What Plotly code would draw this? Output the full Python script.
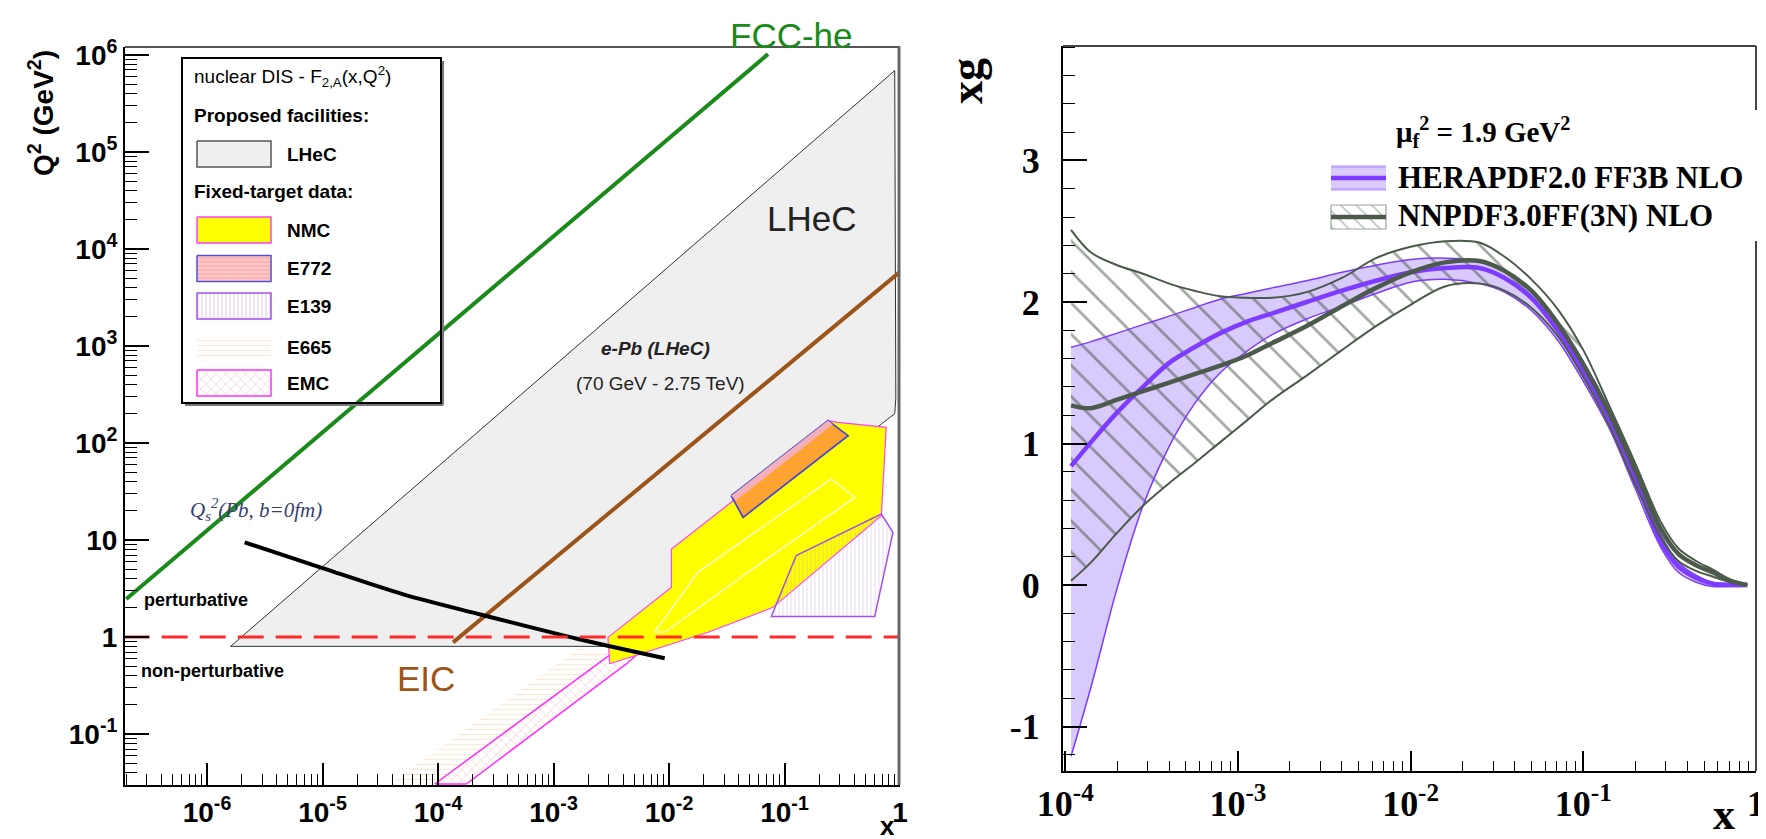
import plotly.graph_objects as go

# ================= LEFT PANEL DATA (x, Q^2) =================
lhec_x = [1.6e-6, 0.90, 0.92, 0.90, 0.69, 3.0e-3]
lhec_q2 = [0.80, 6.9e5, 290, 200, 157, 0.80]

nmc_x = [3.07e-3, 2.96e-3, 1.05e-2, 1.05e-2, 3.46e-2, 0.238, 0.290, 0.760, 0.689, 0.0794, 0.0218, 5.05e-3]
nmc_q2 = [0.53, 0.99, 3.25, 8.07, 24.5, 170, 163, 145, 17.8, 2.02, 1.12, 0.64]

nmc_inner_x = [7.52e-3, 1.78e-2, 0.254, 0.406, 4.83e-2, 9.18e-3]
nmc_inner_q2 = [1.12, 4.65, 42.6, 27.5, 4.65, 1.12]

e772_x = [3.46e-2, 0.238, 0.355, 4.38e-2]
e772_q2 = [28.6, 170, 119, 17.1]
e772_strip_x = [3.46e-2, 0.238, 0.262, 3.80e-2]
e772_strip_q2 = [28.6, 170, 155, 25.5]

e139_x = [0.126, 0.689, 0.869, 0.604, 0.0769]
e139_q2 = [6.89, 18.5, 12.0, 1.63, 1.63]

emc_x = [9.37e-5, 3.16e-3, 4.27e-3, 6.58e-3, 4.27e-3, 1.76e-4]
emc_q2 = [0.0305, 0.668, 0.953, 0.828, 0.527, 0.0305]

e665_x = [3.82e-5, 1.63e-3, 3.07e-3, 9.37e-5]
e665_q2 = [0.0305, 0.752, 0.695, 0.0305]

fcc_x = [2.0e-7, 0.072]
fcc_q2 = [2.46, 1.02e6]
eic_x = [1.35e-4, 1.0]
eic_q2 = [0.88, 5800]
qs_x = [2.12e-6, 1.0e-5, 5.0e-5, 2.22e-4, 1.63e-3, 9.18e-3]
qs_q2 = [9.46, 5.13, 2.75, 1.73, 0.953, 0.603]
pert_x = [1.9e-7, 1.0]
pert_q2 = [1.0, 1.0]

left_xticks = [1e-6, 1e-5, 1e-4, 1e-3, 1e-2, 1e-1, 1]
left_xtext = ["10<sup>-6</sup>", "10<sup>-5</sup>", "10<sup>-4</sup>", "10<sup>-3</sup>",
              "10<sup>-2</sup>", "10<sup>-1</sup>", "1"]
left_yticks = [0.1, 1, 10, 100, 1e3, 1e4, 1e5, 1e6]
left_ytext = ["10<sup>-1</sup>", "1", "10", "10<sup>2</sup>", "10<sup>3</sup>",
              "10<sup>4</sup>", "10<sup>5</sup>", "10<sup>6</sup>"]

# ================= RIGHT PANEL DATA (x, xg) =================
xg_x = [1.08e-4, 1.41e-4, 2.0e-4, 2.82e-4, 4.0e-4, 5.6e-4, 7.9e-4, 1.12e-3, 1.58e-3,
        2.5e-3, 4.0e-3, 6.3e-3, 1.0e-2, 1.58e-2, 2.5e-2, 3.5e-2, 5.0e-2, 7.1e-2,
        0.10, 0.141, 0.20, 0.28, 0.355, 0.45, 0.56, 0.71, 0.89]
hera_c = [0.84, 1.01, 1.22, 1.40, 1.57, 1.68, 1.78, 1.86, 1.92, 2.00, 2.08, 2.15, 2.21,
          2.24, 2.24, 2.17, 2.03, 1.80, 1.51, 1.18, 0.76, 0.31, 0.13, 0.05, 0.01, 0.0, 0.0]
hera_up = [1.68, 1.72, 1.78, 1.84, 1.90, 1.96, 2.02, 2.06, 2.10, 2.15, 2.21, 2.26, 2.30,
           2.31, 2.29, 2.22, 2.08, 1.86, 1.58, 1.24, 0.81, 0.36, 0.16, 0.07, 0.02, 0.01, 0.0]
hera_lo = [-1.21, -0.72, -0.02, 0.56, 0.98, 1.28, 1.50, 1.65, 1.77, 1.88, 1.97, 2.06, 2.14,
           2.16, 2.13, 2.07, 1.94, 1.73, 1.44, 1.11, 0.68, 0.27, 0.09, 0.02, -0.01, -0.01, 0.0]
nn_c = [1.27, 1.25, 1.31, 1.37, 1.43, 1.49, 1.55, 1.62, 1.71, 1.83, 1.97, 2.10, 2.21,
        2.28, 2.29, 2.22, 2.08, 1.85, 1.56, 1.22, 0.81, 0.40, 0.22, 0.14, 0.09, 0.03, 0.0]
nn_up = [2.51, 2.35, 2.26, 2.20, 2.13, 2.08, 2.04, 2.03, 2.03, 2.07, 2.17, 2.31, 2.39,
         2.43, 2.42, 2.32, 2.16, 1.95, 1.66, 1.27, 0.86, 0.45, 0.26, 0.17, 0.11, 0.04, 0.0]
nn_lo = [0.03, 0.16, 0.37, 0.56, 0.72, 0.86, 1.01, 1.16, 1.31, 1.48, 1.66, 1.83, 1.98,
         2.11, 2.13, 2.08, 1.96, 1.76, 1.47, 1.13, 0.71, 0.34, 0.17, 0.10, 0.06, 0.02, 0.0]

right_xticks = [1e-4, 1e-3, 1e-2, 1e-1, 1]
right_xtext = ["10<sup>-4</sup>", "10<sup>-3</sup>", "10<sup>-2</sup>", "10<sup>-1</sup>", "1"]
right_yticks = [-1, 0, 1, 2, 3]
right_ytext = ["-1", "0", "1", "2", "3"]

# legend entries (left panel)
left_legend_names = ["LHeC", "NMC", "E772", "E139", "E665", "EMC"]

# ================= STYLE =================
SANS = "Liberation Sans, Arial, sans-serif"
SERIF = "Liberation Serif, Times New Roman, serif"
W, H = 1766, 839
PURPLE = "#7d3cff"
LAV = "rgb(216,202,250)"
GREY_G = "#4b5a4b"
GREEN = "#1a8a1a"
BROWN = "#9c5418"

fig = go.Figure()


def poly(x, y, ax, **kw):
    fig.add_trace(go.Scatter(x=list(x) + [x[0]], y=list(y) + [y[0]], mode="lines",
                             fill="toself", xaxis=ax[0], yaxis=ax[1], showlegend=False,
                             hoverinfo="skip", **kw))


def line(x, y, ax, **kw):
    fig.add_trace(go.Scatter(x=x, y=y, mode="lines", xaxis=ax[0], yaxis=ax[1],
                             showlegend=False, hoverinfo="skip", **kw))


L = ("x", "y")
R = ("x2", "y2")
O = ("x3", "y3")

# ---------------- left panel ----------------
poly(lhec_x, lhec_q2, L, fillcolor="#efefef", line=dict(color="#333", width=1))
poly(e665_x, e665_q2, L, fillcolor="rgba(0,0,0,0)", line=dict(width=0),
     fillpattern=dict(shape="-", fgcolor="#ffcfa8", size=5, solidity=0.25))
poly(emc_x, emc_q2, L, fillcolor="white", line=dict(color="#ff30ff", width=1.5),
     fillpattern=dict(shape="x", fgcolor="#f2a0a0", bgcolor="white", size=7, solidity=0.2))
poly(nmc_x, nmc_q2, L, fillcolor="#ffff00", line=dict(color="#ff40ff", width=1.2))
poly(nmc_inner_x, nmc_inner_q2, L, fillcolor="rgba(0,0,0,0)", line=dict(color="white", width=1.2))
poly(e772_x, e772_q2, L, fillcolor="#ffa020", line=dict(color="#4a4ad0", width=1.8),
     fillpattern=dict(shape="-", fgcolor="#ff9090", bgcolor="#ffa620", size=4, solidity=0.3))
poly(e772_strip_x, e772_strip_q2, L, fillcolor="#f4b0b8", line=dict(width=0))
poly(e139_x, e139_q2, L, fillcolor="rgba(0,0,0,0)", line=dict(color="#a050f0", width=1.5),
     fillpattern=dict(shape="|", fgcolor="#c89af0", size=4, solidity=0.2))

line(fcc_x, fcc_q2, L, line=dict(color=GREEN, width=4))
line(eic_x, eic_q2, L, line=dict(color=BROWN, width=4))
line(qs_x, qs_q2, L, line=dict(color="black", width=4, shape="spline", smoothing=0.8))
line(pert_x, pert_q2, L, line=dict(color="#ff2a2a", width=3, dash="26px,12px"))

# ---------------- right panel ----------------
poly(xg_x + xg_x[::-1], hera_up + hera_lo[::-1], R, fillcolor=LAV, line=dict(width=0))
poly(xg_x + xg_x[::-1], nn_up + nn_lo[::-1], R, fillcolor="rgba(0,0,0,0)", line=dict(width=0),
     fillpattern=dict(shape="\\", fgcolor="#3f4e3f", size=22, solidity=0.12))
line(xg_x, hera_up, R, line=dict(color=PURPLE, width=1.5, shape="spline"))
line(xg_x, hera_lo, R, line=dict(color=PURPLE, width=1.5, shape="spline"))
line(xg_x, hera_c, R, line=dict(color=PURPLE, width=4.5, shape="spline"))
line(xg_x, nn_up, R, line=dict(color=GREY_G, width=2, shape="spline"))
line(xg_x, nn_lo, R, line=dict(color=GREY_G, width=2, shape="spline"))
line(xg_x, nn_c, R, line=dict(color=GREY_G, width=4.5, shape="spline"))

# ---------------- legend swatches (overlay, pixel coordinates) ----------------
sw_x0, sw_x1 = 189, 263
sw_rows = [146, 222, 260.5, 298, 339, 375]
sw_styles = [
    dict(fillcolor="#efefef", line=dict(color="#555", width=1.5)),
    dict(fillcolor="#ffff00", line=dict(color="#ff40ff", width=1.5)),
    dict(fillcolor="#ffc0c0", line=dict(color="#5050d0", width=1.5),
         fillpattern=dict(shape="-", fgcolor="#ff8080", bgcolor="#ffc8c8", size=4, solidity=0.3)),
    dict(fillcolor="white", line=dict(color="#a050f0", width=1.5),
         fillpattern=dict(shape="|", fgcolor="#c090f0", bgcolor="white", size=4, solidity=0.25)),
    dict(fillcolor="rgba(0,0,0,0)", line=dict(width=0),
         fillpattern=dict(shape="-", fgcolor="#ffd6b8", size=5, solidity=0.25)),
    dict(fillcolor="white", line=dict(color="#ff30ff", width=1.5),
         fillpattern=dict(shape="x", fgcolor="#f2a0a0", bgcolor="white", size=7, solidity=0.2)),
]
for yc, st in zip(sw_rows, sw_styles):
    hh = 11 if st["line"].get("width", 0) == 0 else 13
    poly([sw_x0, sw_x1, sw_x1, sw_x0], [yc - hh, yc - hh, yc + hh, yc + hh], O, **st)

# right legend swatches
rx0, rx1 = 1323, 1378
poly([rx0, rx1, rx1, rx0], [157, 157, 183, 183], O, fillcolor=LAV, line=dict(width=0))
line([rx0, rx1], [159, 159], O, line=dict(color="#a884ff", width=1.2))
line([rx0, rx1], [181, 181], O, line=dict(color="#a884ff", width=1.2))
line([rx0, rx1], [170, 170], O, line=dict(color=PURPLE, width=4.5))
poly([rx0, rx1, rx1, rx0], [197, 197, 221, 221], O, fillcolor="rgba(0,0,0,0)",
     line=dict(color="#9aa69a", width=1.2),
     fillpattern=dict(shape="\\", fgcolor="#6b7a6b", size=11, solidity=0.14))
line([rx0, rx1], [209, 209], O, line=dict(color=GREY_G, width=4.5))

# ---------------- axes ----------------
def minor_log(kmin, kmax):
    return [d * 10.0 ** k for k in range(kmin, kmax + 1) for d in range(2, 10)]


tick_common = dict(ticks="inside", tickcolor="black", tickwidth=1.5, showgrid=False,
                   zeroline=False, showline=True, linecolor="black", linewidth=2,
                   automargin=False)

fig.update_layout(
    width=W, height=H, margin=dict(l=0, r=0, t=0, b=0, autoexpand=False),
    paper_bgcolor="white", plot_bgcolor="rgba(0,0,0,0)", showlegend=False,
    xaxis=dict(domain=[117 / W, 892 / W], type="log", range=[-6.71, 0], anchor="y",
               tickmode="array", tickvals=left_xticks, ticktext=left_xtext, ticklen=22,
               tickfont=dict(family=SANS, size=28, color="black", weight="bold"),
               ticklabelstandoff=1,
               minor=dict(tickmode="array", tickvals=minor_log(-7, -1), ticks="inside",
                          ticklen=11, tickcolor="black", tickwidth=1),
               **tick_common),
    yaxis=dict(domain=[1 - 777 / H, 1 - 39 / H], type="log", range=[-1.526, 6.082], anchor="x",
               tickmode="array", tickvals=left_yticks, ticktext=left_ytext, ticklen=24,
               tickfont=dict(family=SANS, size=28, color="black", weight="bold"),
               ticklabelstandoff=0,
               minor=dict(tickmode="array", tickvals=minor_log(-2, 5), ticks="inside",
                          ticklen=12, tickcolor="black", tickwidth=1),
               **tick_common),
    xaxis2=dict(domain=[1055 / W, 1748 / W], type="log", range=[-4.013, 0], anchor="y2",
                tickmode="array", tickvals=right_xticks, ticktext=right_xtext, ticklen=20,
                tickfont=dict(family=SERIF, size=36, color="black", weight="bold"),
                ticklabelstandoff=0,
                minor=dict(tickmode="array", tickvals=minor_log(-4, -1), ticks="inside",
                           ticklen=10, tickcolor="black", tickwidth=1),
                **tick_common),
    yaxis2=dict(domain=[1 - 763 / H, 1 - 38 / H], range=[-1.314, 3.809], anchor="x2",
                tickmode="array", tickvals=right_yticks, ticktext=right_ytext, ticklen=24,
                tickfont=dict(family=SERIF, size=36, color="black", weight="bold"),
                ticklabelstandoff=14,
                minor=dict(dtick=0.2, ticks="inside", ticklen=12, tickcolor="black", tickwidth=1),
                **tick_common),
    xaxis3=dict(domain=[0, 1], range=[0, W], visible=False, anchor="y3", fixedrange=True,
                automargin=False),
    yaxis3=dict(domain=[0, 1], range=[H, 0], visible=False, anchor="x3", fixedrange=True,
                automargin=False),
)

# ---------------- frames / boxes ----------------
shapes = [
    dict(type="line", x0=117, x1=892, y0=39, y1=39, line=dict(color="#555", width=2)),
    dict(type="line", x0=891, x1=891, y0=39, y1=777, line=dict(color="#666", width=3)),
    dict(type="rect", x0=174, x1=433, y0=50, y1=395, line=dict(color="black", width=2)),
    dict(type="line", x0=435, x1=435, y0=53, y1=397, line=dict(color="#777", width=2)),
    dict(type="line", x0=177, x1=435, y0=397, y1=397, line=dict(color="#777", width=2)),
    dict(type="line", x0=1055, x1=1748, y0=38, y1=38, line=dict(color="#444", width=2)),
    dict(type="line", x0=1748, x1=1748, y0=38, y1=102, line=dict(color="#444", width=2)),
    dict(type="line", x0=1748, x1=1748, y0=233, y1=763, line=dict(color="#444", width=2)),
]
for s in shapes:
    s.update(xref="x3", yref="y3", layer="above")
fig.update_layout(shapes=shapes)


def ann(text, x, y, size, family=SANS, color="black", xanchor="center", angle=0,
        weight="normal", style="normal"):
    fig.add_annotation(text=text, x=x, y=y, xref="x3", yref="y3", showarrow=False,
                       xanchor=xanchor, yanchor="middle", textangle=angle,
                       font=dict(family=family, size=size, color=color, weight=weight,
                                 style=style))


# left panel texts
ann("FCC-he", 783, 27, 35, color=GREEN)
ann("LHeC", 803, 210, 35, color="#222")
ann("EIC", 418, 670, 35, color=BROWN)
ann("e-Pb (LHeC)", 647, 340, 19, color="#222", weight="bold", style="italic")
ann("(70 GeV - 2.75 TeV)", 652, 375, 19, color="#222")
ann("Q<sub>s</sub><sup>2</sup>(Pb, b=0fm)", 248, 501, 21, family=SERIF, color="#3a3d6e",
    style="italic")
ann("perturbative", 134, 592, 18, xanchor="left", weight="bold")
ann("non-perturbative", 131, 663, 18, xanchor="left", weight="bold")
ann("Q<sup>2</sup> (GeV<sup>2</sup>)", 33, 105, 28, angle=-90, weight="bold")
ann("x", 879, 818, 26, weight="bold")

# left legend texts
ann("nuclear DIS - F<sub>2,A</sub>(x,Q<sup>2</sup>)", 184, 68, 19, xanchor="left")
ann("Proposed facilities:", 184, 107, 19, xanchor="left", weight="bold")
ann("Fixed-target data:", 184, 183, 19, xanchor="left", weight="bold")
for name, yc in zip(left_legend_names, sw_rows):
    ann(name, 277, yc, 19, xanchor="left", weight="bold")

# right panel texts
ann("xg", 958, 73, 46, family=SERIF, angle=-90, weight="bold")
ann("x", 1716, 806, 44, family=SERIF, weight="bold")
ann("\u03bc<sub>f</sub><sup>2</sup> = 1.9 GeV<sup>2</sup>", 1386, 124, 29, family=SERIF,
    xanchor="left", weight="bold")
ann("HERAPDF2.0 FF3B NLO", 1388, 169, 31, family=SERIF, xanchor="left", weight="bold")
ann("NNPDF3.0FF(3N) NLO", 1388, 207, 31, family=SERIF, xanchor="left", weight="bold")

fig.write_html("out.html")
